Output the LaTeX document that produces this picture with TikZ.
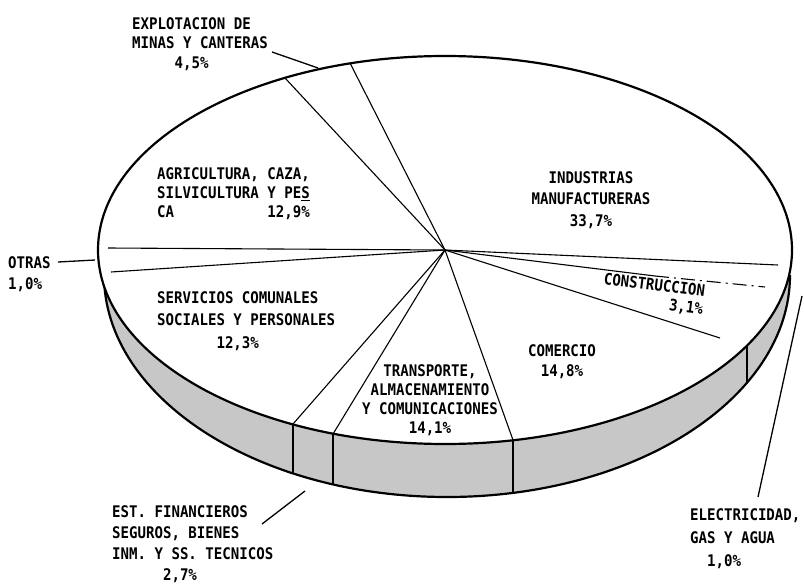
\documentclass[tikz,border=0pt]{standalone}
\usepackage{fontspec}
\newfontfamily\lblfont{DejaVu Sans Mono}[FakeStretch=0.88]
\definecolor{bandgray}{gray}{0.78}
\begin{document}
\begin{tikzpicture}[x=1pt,y=-1pt,
  edge/.style={line width=2.2pt},
  radial/.style={line width=1.1pt},
  bandline/.style={line width=1.4pt},
  leader/.style={line width=1.3pt},
  lbl/.style={font={\lblfont\bfseries\fontsize{16}{#1}\selectfont}, inner sep=0pt},
  lbl/.default=19.5]
\useasboundingbox (0,0) rectangle (804,587);

% centre and edge points
\coordinate (C) at (445,250);
\coordinate (p1) at (350,63);
\coordinate (p2) at (285,78);
\coordinate (p3) at (108,248);
\coordinate (p4) at (111,272);
\coordinate (p5) at (293,424);
\coordinate (p6) at (333,434);
\coordinate (p7) at (513,440);
\coordinate (p8) at (720,338);
\coordinate (p8e) at (747,346);
\coordinate (p9a) at (655,276);
\coordinate (p9) at (765,287);
\coordinate (p10) at (778,265);
\coordinate (b5) at (293,473);
\coordinate (b6) at (333,484);
\coordinate (b7) at (513,493);
\coordinate (b8) at (747,383);

% side band
\fill[bandgray] (104,275) arc[start angle=180,end angle=360,x radius=343pt,y radius=222pt] -- cycle;
\draw[edge] (104,275) arc[start angle=180,end angle=360,x radius=343pt,y radius=222pt];
% top face
\draw[edge, fill=white] (C) ellipse [x radius=347pt, y radius=194pt];

% band separators
\draw[bandline] (p5) -- (b5);
\draw[bandline] (p6) -- (b6);
\draw[bandline] (p7) -- (b7);
\draw[bandline] (p8e) -- (b8);

% radial lines
\draw[radial] (C) -- (p1);
\draw[radial] (C) -- (p2);
\draw[radial] (C) -- (p3);
\draw[radial] (C) -- (p4);
\draw[radial] (C) -- (p5);
\draw[radial] (C) -- (p6);
\draw[radial] (C) -- (p7);
\draw[radial] (C) -- (p8);
\draw[radial] (C) -- (p9a);
\draw[radial, dash pattern=on 14pt off 5pt on 2pt off 5pt] (p9a) -- (p9);
\draw[radial] (C) -- (p10);

% labels
\node[lbl=19.5, align=left, anchor=north west] (minas) at (132,17)
  {EXPLOTACION DE\\MINAS Y CANTERAS\\\phantom{XXXXX}4,5\%};
\node[lbl=19, align=left, anchor=north west] (agri) at (157,167)
  {AGRICULTURA, CAZA,\\SILVICULTURA Y PE\underline{S}\\CA\phantom{XXXXXXXXXXX}12,9\%};
\node[lbl=21.5, align=center, anchor=north] (ind) at (591,171)
  {INDUSTRIAS\\MANUFACTURERAS\\33,7\%};
\node[lbl=21, align=left, anchor=north west] (otras) at (8,256)
  {OTRAS\\1,0\%};
\node[lbl=22.5, align=left, anchor=north west] (serv) at (157,291)
  {SERVICIOS COMUNALES\\SOCIALES Y PERSONALES\\\phantom{XXXXXXX}12,3\%};
\node[lbl=19.3, align=center, anchor=north] (trans) at (430,364)
  {TRANSPORTE,\\ALMACENAMIENTO\\Y COMUNICACIONES\\14,1\%};
\node[lbl=20, align=center, anchor=north] (com) at (562,344)
  {COMERCIO\\14,8\%};
\node[lbl=17.5, align=right, anchor=north east, rotate=-7] (cons) at (706,285)
  {CONSTRUCCION\\3,1\%};
\node[lbl=21.2, align=left, anchor=north west] (est) at (112,505)
  {EST. FINANCIEROS\\SEGUROS, BIENES\\INM. Y SS. TECNICOS\\\phantom{XXXXXX}2,7\%};
\node[lbl=23, align=left, anchor=north west] (elec) at (690,508)
  {ELECTRICIDAD,\\GAS Y AGUA\\\phantom{XX}1,0\%};

% leaders
\coordinate (mA) at (272,52);  \coordinate (mB) at (318,68);
\coordinate (oA) at (58,262);  \coordinate (oB) at (95,260);
\coordinate (eA) at (262,524); \coordinate (eB) at (305,491);
\coordinate (lA) at (758,497); \coordinate (lB) at (802,296);
\draw[leader] (mA) -- (mB);
\draw[leader] (oA) -- (oB);
\draw[leader] (eA) -- (eB);
\draw[leader] (lA) -- (lB);
\end{tikzpicture}
\end{document}
